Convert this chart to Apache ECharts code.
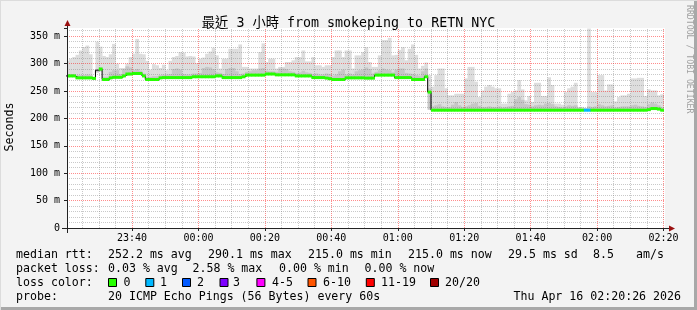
<!DOCTYPE html>
<html><head><meta charset="utf-8">
<script src="https://cdn.jsdelivr.net/npm/echarts@6/dist/echarts.min.js"></script>
<style>html,body{margin:0;padding:0;background:#f3f3f3}#c{width:697px;height:310px}</style>
</head><body><div id="c"></div>
<script>
// time axis in minutes since 23:00; first sample ends at 23:21, one sample per minute
const startMinute = 21;
const axisStart = 20 + 26/60;   // 23:20:26
const axisEnd = 200 + 26/60;    // 02:20:26

const median = [
277.5,277.5,277.5,274,274,274,274,274,273,288,
290.1,271,271,274,275,275,275,277.5,281,281,
282,282,282,277.5,271,271,271,271,274,274.5,
274.5,274.5,274.5,274.5,274.5,274.5,274.5,274.5,276,276,
276,276,276,276,276,277.5,277.5,274.5,274.5,274.5,
274.5,274.5,274.5,276,279,279,279,279,279,279,
281,281,281,279.5,279.5,279.5,279.5,279.5,279.5,277.5,
277.5,277.5,277.5,277.5,274.5,274.5,274.5,274.5,273.5,272.5,
271,271,271,271,274,274,274,274,274,274,
273.5,273.5,273.5,279,279,279,279,279,279,274.5,
274.5,274.5,274.5,274.5,271,271,271,271,276,248,
215,215,215,215,215,215,215,215,215,215,
215,215,215,215,215,215,215,215,215,215,
215,215,215,215,215,215,215,215,215,215,
215,215,215,215,215,215,215,215,215,215,
215,215,215,215,215,215,215,215,215,215,
215,215,215,215,215,215,215,215,215,215,
215,215,215,215,215,216,218,218,217,215];

const smokeMin = [
276,276,276,272.5,272.5,272.5,272.5,272.5,271.5,284,
286,269.5,269.5,272.5,273.5,273.5,273.5,276,279,279,
280,280,280,276,269.5,269.5,269.5,269.5,272.5,273,
273,273,273,273,273,273,273,273,274.5,274.5,
274.5,274.5,274.5,274.5,274.5,276,276,273,273,273,
273,273,273,274.5,277.5,277.5,277.5,277.5,277.5,277.5,
279.5,279.5,279.5,278,278,278,278,278,278,276,
276,276,276,276,273,273,273,273,272,271,
269.5,269.5,269.5,269.5,272.5,272.5,272.5,272.5,272.5,272.5,
272,272,272,277.5,277.5,277.5,277.5,277.5,277.5,273,
273,273,273,273,269.5,269.5,269.5,269.5,274.5,216,
213.5,213.5,213.5,213.5,213.5,213.5,213.5,213.5,213.5,213.5,
213.5,213.5,213.5,213.5,213.5,213.5,213.5,213.5,213.5,213.5,
213.5,213.5,213.5,213.5,213.5,213.5,213.5,213.5,213.5,213.5,
213.5,213.5,213.5,213.5,213.5,213.5,213.5,213.5,213.5,213.5,
213.5,213.5,213.5,213.5,213.5,213.5,213.5,213.5,213.5,213.5,
213.5,213.5,213.5,213.5,213.5,213.5,213.5,213.5,213.5,213.5,
213.5,213.5,213.5,213.5,213.5,214.5,216.5,216.5,215.5,213.5];

const smokeMid = [
281,281,281,279,279,279,280,279,275,287,
293,276,276,285,288,288,281,290,295,293,
288,290,287,282,276,276,277,277,279,280,
280,281,290,291,289,281,280,280,282,282,
283,292,294,293,290,284,283,281,290,292,
292,286,281,282,285,286,288,288,291,292,
287,286,286,285,291,291,290,286,285,283,
284,287,284,283,281,282,280,280,282,281,
278,280,286,289,280,282,280,286,288,289,
293,290,282,285,288,291,289,288,284,289,
291,291,283,282,281,279,278,286,291,255,
222,224,226,222,221,221,225,230,224,221,
222,224,227,228,223,221,221,222,221,221,
222,220,221,222,223,235,239,234,226,225,
222,224,225,224,227,228,226,222,221,220,
222,224,223,224,219,218,218,222,221,222,
226,224,222,223,224,220,221,222,222,222,
224,225,223,222,221,226,229,227,224,220];

const smokeMax = [
305,309,312,316,324,330,333,317,276,340,
331,314,312,317,336,300,292,292,300,312,
318,345,318,317,305,289,299,297,292,298,
288,305,312,314,321,320,313,314,313,301,
309,311,318,322,329,315,291,309,309,327,
327,327,335,294,294,291,291,291,321,337,
303,309,309,291,294,294,303,303,306,312,
312,324,304,304,312,297,297,294,297,297,
312,324,324,312,324,324,291,315,315,321,
330,303,294,294,315,343,343,347,315,316,
325,330,306,327,335,316,291,296,302,279,
258,279,291,291,255,242,242,245,245,245,
273,294,294,267,239,251,258,261,258,255,
255,227,227,245,248,251,270,253,233,241,
230,265,265,241,241,275,261,227,227,225,
248,255,258,265,221,221,219,364,248,248,
279,279,251,262,262,231,239,242,242,245,
273,273,274,274,241,253,251,251,242,244];

// loss colour index per minute (-1: no coloured segment drawn)
const lossIdx = [
0,0,0,0,0,0,0,0,0,-1,
0,0,0,0,0,0,0,0,0,0,
0,0,0,0,0,0,0,0,0,0,
0,0,0,0,0,0,0,0,0,0,
0,0,0,0,0,0,0,0,0,0,
0,0,0,0,0,0,0,0,0,0,
0,0,0,0,0,0,0,0,0,0,
0,0,0,0,0,0,0,0,0,0,
0,0,0,0,0,0,0,0,0,0,
0,0,0,0,0,0,0,0,0,0,
0,0,0,0,0,0,0,0,0,0,
0,0,0,0,0,0,0,0,0,0,
0,0,0,0,0,0,0,0,0,0,
0,0,0,0,0,0,0,0,0,0,
0,0,0,0,0,0,0,0,0,0,
0,0,0,0,0,0,1,1,0,0,
0,0,0,0,0,0,0,0,0,0,
0,0,0,0,0,0,0,0,0,0];

const lossColors = ['#26ff00','#00b8ff','#0059ff','#7e00ff','#ff00ff','#ff5500','#ff0000','#a00000'];
const lossLabels = ['0','1','2','3','4-5','6-10','11-19','20/20'];
const xMajorTicks = [40,60,80,100,120,140,160,180,200];
const yMajorTicks = [50,100,150,200,250,300,350];

const titleText = '最近 3 小時 from smokeping to RETN NYC';
const rttStats = [['median rtt:',16],['252.2 ms avg',108],['290.1 ms max',208],['215.0 ms min',308],['215.0 ms now',408],['29.5 ms sd',508],['8.5',593],['am/s',636]];
const lossStats = [['packet loss:',16],['0.03 % avg',108],['2.58 % max',192.5],['0.00 % min',279],['0.00 % now',364.5]];
const probeText = '20 ICMP Echo Pings (56 Bytes) every 60s';
const dateText = 'Thu Apr 16 02:20:26 2026';
const lossBoxX = [108,145.3,182,219.5,256.4,307.5,365.8,430];
const lossLabelX = [123.5,160,197,233,272,323,381,445];

const MONO = "'DejaVu Sans Mono','Noto Sans CJK TC',monospace";

const times = median.map((_, k) => startMinute + k);
const maxBand = times.map((t, k) => [t, smokeMin[k], smokeMax[k]]);
const midBand = times.map((t, k) => [t, smokeMin[k], smokeMid[k]]);
const medSeg = times.map((t, k) => [t, median[k], lossIdx[k]]);
const medLine = times.map((t, k) => [t - 1, median[k]]);
medLine.push([times[times.length - 1], median[median.length - 1]]);

function fmtTime(v) {
  const tot = Math.round(v) + 23 * 60;
  const h = Math.floor(tot / 60) % 24, m = tot % 60;
  return String(h).padStart(2, '0') + ':' + String(m).padStart(2, '0');
}

function bandRenderer(color) {
  return function (params, api) {
    const t = api.value(0), lo = api.value(1), hi = api.value(2);
    const a = api.coord([t - 1, hi]);
    const b = api.coord([t, lo]);
    return {type: 'rect', shape: {x: a[0], y: a[1], width: b[0] - a[0] + 0.4, height: b[1] - a[1]},
            style: {fill: color}};
  };
}
function segRenderer(params, api) {
  const idx = api.value(2);
  if (idx < 0) return null;
  const t = api.value(0), v = api.value(1);
  const a = api.coord([t - 1, v]);
  const b = api.coord([t, v]);
  return {type: 'rect', shape: {x: a[0], y: a[1] - 1.5, width: b[0] - a[0] + 0.5, height: 3},
          style: {fill: lossColors[idx]}};
}

// grid line definitions
const gridLines = [];
for (let m = 25; m <= 200; m += 5) {
  const major = xMajorTicks.indexOf(m) >= 0;
  gridLines.push({xAxis: m, lineStyle: major ? {color: 'rgba(255,0,0,0.45)', type: [1, 1], width: 1} : {color: 'rgba(120,120,120,0.4)', type: [1, 1], width: 1}});
}
for (let v = 10; v <= 360; v += 10) {
  const major = yMajorTicks.indexOf(v) >= 0;
  gridLines.push({yAxis: v, lineStyle: major ? {color: 'rgba(255,0,0,0.45)', type: [1, 1], width: 1} : {color: 'rgba(120,120,120,0.4)', type: [1, 1], width: 1}});
}

const graphics = [
  {type: 'rect', shape: {x: 694, y: 0, width: 3, height: 310}, style: {fill: '#a8a8a8'}, silent: true},
  {type: 'rect', shape: {x: 0, y: 307, width: 697, height: 3}, style: {fill: '#a8a8a8'}, silent: true},
  {type: 'rect', shape: {x: 0, y: 0, width: 697, height: 1}, style: {fill: '#dcdcdc'}, silent: true},
  {type: 'rect', shape: {x: 0, y: 0, width: 1, height: 310}, style: {fill: '#dcdcdc'}, silent: true},
  // axis extensions and arrows
  {type: 'line', shape: {x1: 62, y1: 228.5, x2: 670, y2: 228.5}, style: {stroke: '#222', lineWidth: 1}, z: 10},
  {type: 'line', shape: {x1: 67.5, y1: 25, x2: 67.5, y2: 233}, style: {stroke: '#222', lineWidth: 1}, z: 10},
  {type: 'polygon', shape: {points: [[64.5, 26], [70.5, 26], [67.5, 20]]}, style: {fill: '#9a1010'}, z: 11},
  {type: 'polygon', shape: {points: [[669, 225.5], [669, 231.5], [675, 228.5]]}, style: {fill: '#9a1010'}, z: 11},
  {type: 'text', x: 10, y: 127, rotation: Math.PI / 2,
   style: {text: 'Seconds', font: '11.6px ' + MONO, fill: '#000', align: 'center', verticalAlign: 'middle'}},
  {type: 'text', x: 689, y: 5, rotation: -Math.PI / 2,
   style: {text: 'RRDTOOL / TOBI OETIKER', font: '8.2px ' + MONO, fill: '#a0a0a0', align: 'left', verticalAlign: 'middle'}}
];
rttStats.forEach(([s, x]) => graphics.push({type: 'text', x: x, y: 254.5, style: {text: s, font: '11.6px ' + MONO, fill: '#000', verticalAlign: 'middle'}}));
lossStats.forEach(([s, x]) => graphics.push({type: 'text', x: x, y: 268.5, style: {text: s, font: '11.6px ' + MONO, fill: '#000', verticalAlign: 'middle'}}));
graphics.push({type: 'text', x: 16, y: 282.5, style: {text: 'loss color:', font: '11.6px ' + MONO, fill: '#000', verticalAlign: 'middle'}});
lossColors.forEach((c, i) => {
  graphics.push({type: 'rect', shape: {x: lossBoxX[i] + 0.5, y: 278.5, width: 8, height: 8}, style: {fill: c, stroke: '#000', lineWidth: 1}});
  graphics.push({type: 'text', x: lossLabelX[i], y: 282.5, style: {text: lossLabels[i], font: '11.6px ' + MONO, fill: '#000', verticalAlign: 'middle'}});
});
graphics.push({type: 'text', x: 16, y: 297, style: {text: 'probe:', font: '11.6px ' + MONO, fill: '#000', verticalAlign: 'middle'}});
graphics.push({type: 'text', x: 108, y: 297, style: {text: probeText, font: '11.6px ' + MONO, fill: '#000', verticalAlign: 'middle'}});
graphics.push({type: 'text', x: 681, y: 297, style: {text: dateText, font: '11.6px ' + MONO, fill: '#000', align: 'right', verticalAlign: 'middle'}});

const chart = echarts.init(document.getElementById('c'), null, {renderer: 'canvas'});
chart.setOption({
  animation: false,
  backgroundColor: '#f3f3f3',
  title: {text: titleText, left: 'center', top: 12,
          textStyle: {fontFamily: MONO, fontSize: 13.3, fontWeight: 'normal', color: '#000'}},
  grid: {left: 67, top: 28, width: 598, height: 200, show: true, backgroundColor: '#fff', borderWidth: 0},
  xAxis: {type: 'value', min: axisStart, max: axisEnd,
    axisLine: {show: true, lineStyle: {color: '#222'}},
    axisTick: {show: true, length: 3, customValues: xMajorTicks, lineStyle: {color: '#222'}},
    axisLabel: {customValues: xMajorTicks, formatter: fmtTime, margin: 5,
                fontFamily: MONO, fontSize: 10, color: '#000'},
    splitLine: {show: false}},
  yAxis: {type: 'value', min: 0, max: 365, interval: 50,
    axisLine: {show: true, lineStyle: {color: '#222'}},
    axisTick: {show: true, length: 3, lineStyle: {color: '#222'}},
    axisLabel: {margin: 7, fontFamily: MONO, fontSize: 10, color: '#000',
                formatter: v => (v % 50 !== 0 ? '' : (v === 0 ? '0' : v + ' m'))},
    splitLine: {show: false}},
  graphic: graphics,
  series: [
    {type: 'custom', name: 'smoke max', data: maxBand, renderItem: bandRenderer('#dddddd'),
     encode: {x: 0, y: [1, 2]}, clip: true, z: 1, silent: true},
    {type: 'custom', name: 'smoke mid', data: midBand, renderItem: bandRenderer('#c6c6c6'),
     encode: {x: 0, y: [1, 2]}, clip: true, z: 1, silent: true},
    {type: 'line', name: 'grid', data: [], silent: true, z: 2,
     markLine: {silent: true, symbol: ['none', 'none'], label: {show: false}, z: 2, animation: false, data: gridLines}},
    {type: 'line', name: 'median', data: medLine, step: 'end', showSymbol: false, symbol: 'none',
     lineStyle: {color: '#000', width: 1}, z: 3, silent: true},
    {type: 'custom', name: 'median loss', data: medSeg, renderItem: segRenderer,
     encode: {x: 0, y: 1}, clip: true, z: 4, silent: true}
  ]
});
</script>
</body></html>
